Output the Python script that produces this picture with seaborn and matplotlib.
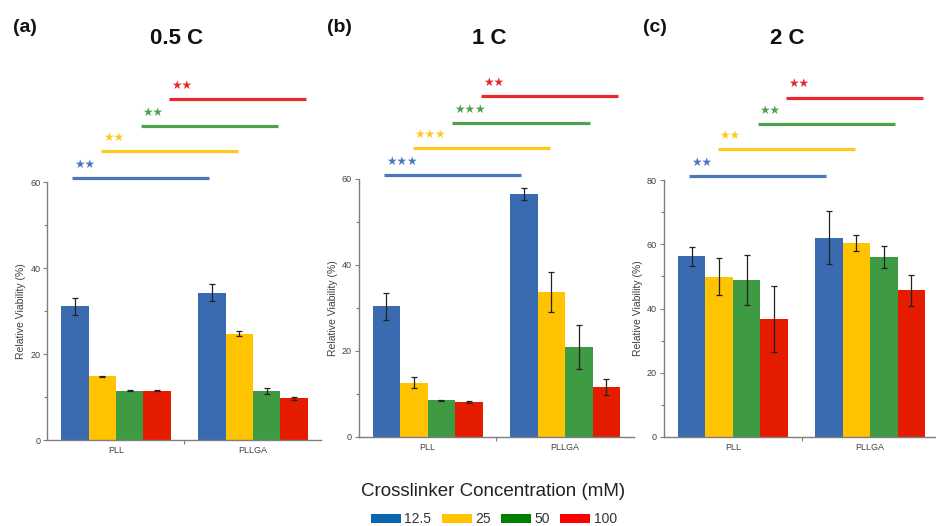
import numpy as np
import pandas as pd
import matplotlib
matplotlib.use("Agg")
import matplotlib.pyplot as plt
import matplotlib.transforms as mtransforms
from matplotlib.patches import Patch
from matplotlib.ticker import MultipleLocator
import seaborn as sns

# ---------------- data ----------------
materials = ["PLL", "PLLGA"]
concentrations = ["12.5", "25", "50", "100"]
panel_letters = ["(a)", "(b)", "(c)"]
panel_titles = ["0.5 C", "1 C", "2 C"]

# mean viability per concentration: [PLL, PLLGA]
mean_a = {"12.5": [31.1, 34.3], "25": [14.8, 24.7], "50": [11.5, 11.4], "100": [11.5, 9.7]}
err_a = {"12.5": [2.0, 2.0], "25": [0.2, 0.6], "50": [0.1, 0.7], "100": [0.2, 0.3]}
mean_b = {"12.5": [30.4, 56.6], "25": [12.6, 33.7], "50": [8.5, 20.9], "100": [8.1, 11.7]}
err_b = {"12.5": [3.1, 1.4], "25": [1.3, 4.6], "50": [0.1, 5.2], "100": [0.3, 1.9]}
mean_c = {"12.5": [56.2, 62.0], "25": [49.9, 60.4], "50": [48.9, 56.0], "100": [36.7, 45.7]}
err_c = {"12.5": [2.9, 8.2], "25": [5.7, 2.5], "50": [7.8, 3.3], "100": [10.3, 4.8]}

sig_a = ["★★", "★★", "★★", "★★"]
sig_b = ["★★★", "★★★", "★★★", "★★"]
sig_c = ["★★", "★★", "★★", "★★"]

y_max = [60, 60, 80]

# ---------------- style ----------------
bar_colors = ["#3a6bb0", "#ffc300", "#3f9a44", "#e61c00"]
legend_colors = ["#0866b0", "#ffc300", "#008000", "#ff0000"]
sig_colors = ["#4a78c0", "#ffc81e", "#4ea24e", "#e8282b"]
sig_y = [1.016, 1.12, 1.217, 1.321]
sig_x0 = [-0.32, -0.11, 0.18, 0.385]
sig_span = 1.0
axis_gray = "#7f7f7f"
text_gray = "#404040"

sns.set_style("ticks")
plt.rcParams["font.family"] = ["Liberation Sans", "DejaVu Sans"]

fig = plt.figure(figsize=(9.37, 5.26), dpi=100)
W, H = 937, 526
ax_boxes = [(47.5, 440, 274, 258), (359, 437, 275, 258), (664, 437, 275, 257)]
letter_x = [13, 327, 643]
title_x = [177, 489, 787]

means = [mean_a, mean_b, mean_c]
errs = [err_a, err_b, err_c]
sigs = [sig_a, sig_b, sig_c]

for i in range(3):
    l, b, w, h = ax_boxes[i]
    ax = fig.add_axes([l / W, (H - b) / H, w / W, h / H])
    rows = []
    for c in concentrations:
        for m, v, e in zip(materials, means[i][c], errs[i][c]):
            rows.append({"material": m, "conc": c, "value": v, "err": e})
    df = pd.DataFrame(rows)
    sns.barplot(data=df, x="material", y="value", hue="conc",
                order=materials, hue_order=concentrations,
                palette=bar_colors, errorbar=None, width=0.8,
                saturation=1, legend=False, ax=ax, linewidth=0)
    bar_containers = list(ax.containers)
    for ci, cont in enumerate(bar_containers):
        c = concentrations[ci]
        for mi, patch in enumerate(cont.patches):
            xc = patch.get_x() + patch.get_width() / 2
            ax.errorbar(xc, patch.get_height(), yerr=errs[i][c][mi],
                        fmt="none", ecolor="#222222", elinewidth=0.9,
                        capsize=2, capthick=0.9, zorder=5)
    ax.set_xlim(-0.5, 1.5)
    ax.set_ylim(0, y_max[i])
    ax.yaxis.set_major_locator(MultipleLocator(20))
    ax.yaxis.set_minor_locator(MultipleLocator(10))
    ax.set_xticks([0, 1])
    ax.set_xticks([0.5], minor=True)
    ax.tick_params(axis="x", which="major", length=0, labelsize=6.5,
                   labelcolor=text_gray, pad=4)
    ax.tick_params(axis="x", which="minor", length=3, color=axis_gray, width=0.8)
    ax.tick_params(axis="y", which="major", length=3, color=axis_gray, width=0.8,
                   labelsize=6.5, labelcolor=text_gray, pad=2)
    ax.tick_params(axis="y", which="minor", length=2, color=axis_gray, width=0.8)
    ax.set_xlabel("")
    ax.set_ylabel("Relative Viability (%)", fontsize=7.5, color=text_gray, labelpad=3)
    sns.despine(ax=ax)
    for s in ["left", "bottom"]:
        ax.spines[s].set_color(axis_gray)
        ax.spines[s].set_linewidth(1.0)

    trans = mtransforms.blended_transform_factory(ax.transData, ax.transAxes)
    for k in range(4):
        x0 = sig_x0[k]
        ax.plot([x0, x0 + sig_span], [sig_y[k], sig_y[k]], color=sig_colors[k],
                lw=2.3, transform=trans, clip_on=False, solid_capstyle="butt")
        ax.text(x0 + 0.015, sig_y[k] + 0.028, sigs[i][k], color=sig_colors[k],
                fontsize=8.5, family="DejaVu Sans", transform=trans,
                ha="left", va="bottom", clip_on=False)

    fig.text(letter_x[i] / W, 1 - 27 / H, panel_letters[i], fontsize=14,
             fontweight="bold", ha="left", va="center", color="#111111")
    fig.text(title_x[i] / W, 1 - 38 / H, panel_titles[i], fontsize=16,
             fontweight="bold", ha="center", va="center", color="#111111")

fig.text(493 / W, 1 - 491 / H, "Crosslinker Concentration (mM)", fontsize=13.5,
         ha="center", va="center", color="#222222")
handles = [Patch(facecolor=col, edgecolor="none", label=lab)
           for col, lab in zip(legend_colors, concentrations)]
fig.legend(handles=handles, loc="center", bbox_to_anchor=(494 / W, 1 - 519 / H),
           ncol=4, frameon=False, fontsize=10, handlelength=2.15, handleheight=0.6,
           handletextpad=0.25, columnspacing=0.75, labelcolor="#333333",
           borderpad=0.1)

fig.savefig("out.png", dpi=100)
